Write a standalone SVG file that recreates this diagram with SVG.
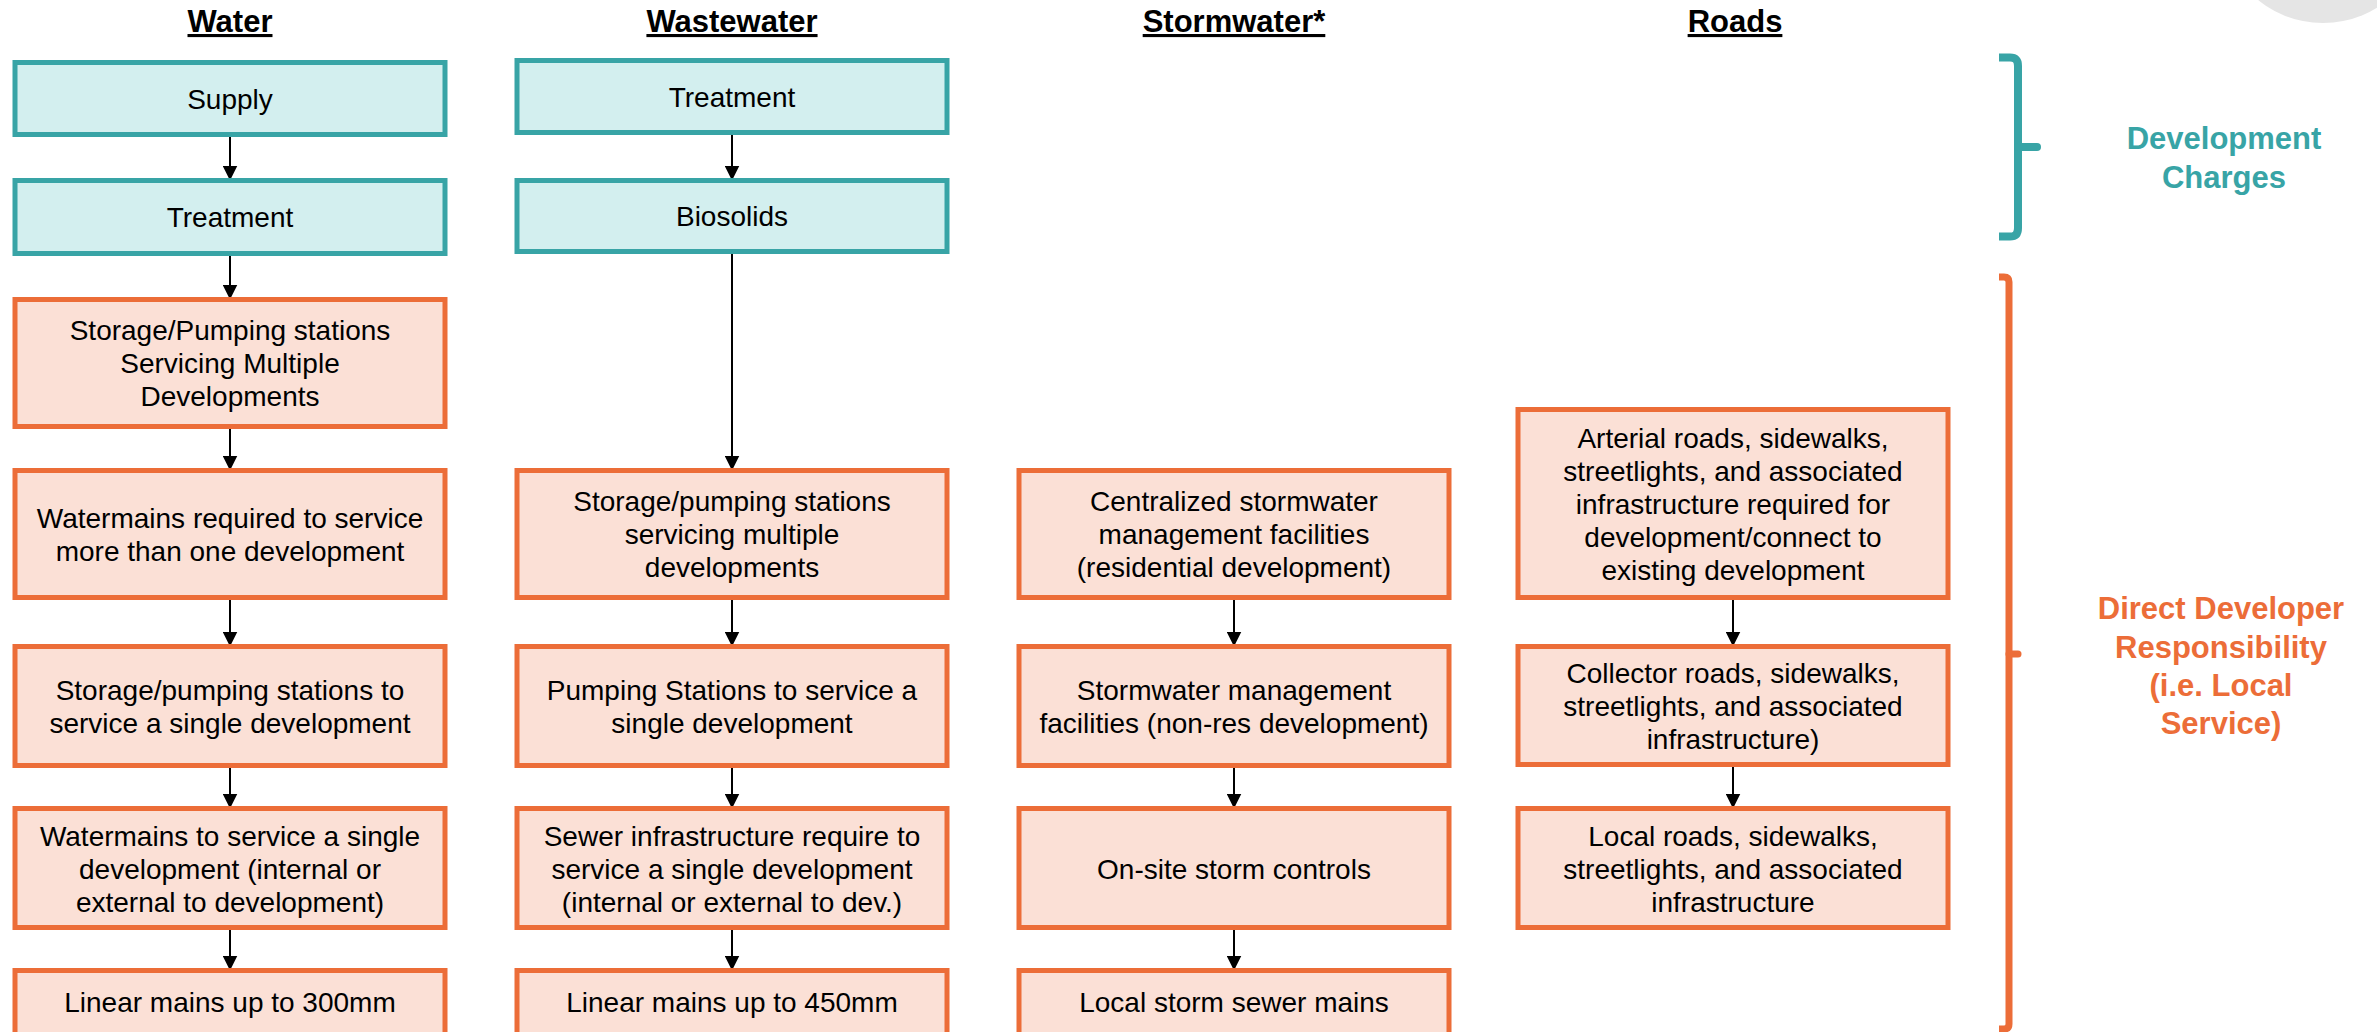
<svg xmlns="http://www.w3.org/2000/svg" width="2377" height="1032" viewBox="0 0 2377 1032">
<defs>
<style>
.t{font-family:"Liberation Sans",Arial,sans-serif;font-size:28px;fill:#000;text-anchor:middle}
.h{font-family:"Liberation Sans",Arial,sans-serif;font-size:31px;font-weight:bold;fill:#000;text-anchor:middle;text-decoration:underline}
.dc{stroke:#38a4a6;stroke-width:5;fill:#d3efef}
.dd{stroke:#ec6d38;stroke-width:5;fill:#fbe0d6}
.c{stroke:#000;stroke-width:2;fill:none;marker-end:url(#ah)}
.lt{font-family:"Liberation Sans",Arial,sans-serif;font-size:31px;font-weight:bold;text-anchor:middle}
</style>
<marker id="ah" markerUnits="userSpaceOnUse" markerWidth="15" markerHeight="15" viewBox="0 0 15 15" refX="15" refY="7.5" orient="auto">
<path d="M0,0 L15,7.5 L0,15 z" fill="#000"/>
</marker>
</defs>
<rect width="2377" height="1032" fill="#fff"/>
<circle cx="2323" cy="-80" r="103" fill="#e5e5e5"/>

<g id="titles">
<text class="h" x="230" y="32">Water</text>
<text class="h" x="732" y="32">Wastewater</text>
<text class="h" x="1234" y="32">Stormwater*</text>
<text class="h" x="1735" y="32">Roads</text>
</g>

<g id="connectors">
<line class="c" x1="230" y1="137" x2="230" y2="180.5"/>
<line class="c" x1="230" y1="256" x2="230" y2="299.5"/>
<line class="c" x1="230" y1="429" x2="230" y2="470.5"/>
<line class="c" x1="230" y1="600" x2="230" y2="646.5"/>
<line class="c" x1="230" y1="768" x2="230" y2="808.5"/>
<line class="c" x1="230" y1="930" x2="230" y2="970.5"/>
<line class="c" x1="732" y1="135" x2="732" y2="180.5"/>
<line class="c" x1="732" y1="254" x2="732" y2="470.5"/>
<line class="c" x1="732" y1="600" x2="732" y2="646.5"/>
<line class="c" x1="732" y1="768" x2="732" y2="808.5"/>
<line class="c" x1="732" y1="930" x2="732" y2="970.5"/>
<line class="c" x1="1234" y1="600" x2="1234" y2="646.5"/>
<line class="c" x1="1234" y1="768" x2="1234" y2="808.5"/>
<line class="c" x1="1234" y1="930" x2="1234" y2="970.5"/>
<line class="c" x1="1733" y1="600" x2="1733" y2="646.5"/>
<line class="c" x1="1733" y1="767" x2="1733" y2="808.5"/>
</g>

<g id="w-supply"><rect class="dc" x="15" y="62.5" width="430" height="72"/><text class="t" x="230" y="109">Supply</text></g>
<g id="w-treatment"><rect class="dc" x="15" y="180.5" width="430" height="73"/><text class="t" x="230" y="227">Treatment</text></g>
<g id="w-storage-multi"><rect class="dd" x="15" y="299.5" width="430" height="127"/><text class="t" x="230" y="340">Storage/Pumping stations</text><text class="t" x="230" y="373">Servicing Multiple</text><text class="t" x="230" y="406">Developments</text></g>
<g id="w-mains-multi"><rect class="dd" x="15" y="470.5" width="430" height="127"/><text class="t" x="230" y="528">Watermains required to service</text><text class="t" x="230" y="561">more than one development</text></g>
<g id="w-storage-single"><rect class="dd" x="15" y="646.5" width="430" height="119"/><text class="t" x="230" y="700">Storage/pumping stations to</text><text class="t" x="230" y="733">service a single development</text></g>
<g id="w-mains-single"><rect class="dd" x="15" y="808.5" width="430" height="119"/><text class="t" x="230" y="846">Watermains to service a single</text><text class="t" x="230" y="879">development (internal or</text><text class="t" x="230" y="912">external to development)</text></g>
<g id="w-linear"><rect class="dd" x="15" y="970.5" width="430" height="100"/><text class="t" x="230" y="1012">Linear mains up to 300mm</text></g>

<g id="ww-treatment"><rect class="dc" x="517" y="60.5" width="430" height="72"/><text class="t" x="732" y="107">Treatment</text></g>
<g id="ww-biosolids"><rect class="dc" x="517" y="180.5" width="430" height="71"/><text class="t" x="732" y="226">Biosolids</text></g>
<g id="ww-storage-multi"><rect class="dd" x="517" y="470.5" width="430" height="127"/><text class="t" x="732" y="511">Storage/pumping stations</text><text class="t" x="732" y="544">servicing multiple</text><text class="t" x="732" y="577">developments</text></g>
<g id="ww-pumping-single"><rect class="dd" x="517" y="646.5" width="430" height="119"/><text class="t" x="732" y="700">Pumping Stations to service a</text><text class="t" x="732" y="733">single development</text></g>
<g id="ww-sewer-single"><rect class="dd" x="517" y="808.5" width="430" height="119"/><text class="t" x="732" y="846">Sewer infrastructure require to</text><text class="t" x="732" y="879">service a single development</text><text class="t" x="732" y="912">(internal or external to dev.)</text></g>
<g id="ww-linear"><rect class="dd" x="517" y="970.5" width="430" height="100"/><text class="t" x="732" y="1012">Linear mains up to 450mm</text></g>

<g id="sw-central"><rect class="dd" x="1019" y="470.5" width="430" height="127"/><text class="t" x="1234" y="511">Centralized stormwater</text><text class="t" x="1234" y="544">management facilities</text><text class="t" x="1234" y="577">(residential development)</text></g>
<g id="sw-nonres"><rect class="dd" x="1019" y="646.5" width="430" height="119"/><text class="t" x="1234" y="700">Stormwater management</text><text class="t" x="1234" y="733">facilities (non-res development)</text></g>
<g id="sw-onsite"><rect class="dd" x="1019" y="808.5" width="430" height="119"/><text class="t" x="1234" y="879">On-site storm controls</text></g>
<g id="sw-local"><rect class="dd" x="1019" y="970.5" width="430" height="100"/><text class="t" x="1234" y="1012">Local storm sewer mains</text></g>

<g id="r-arterial"><rect class="dd" x="1518" y="409.5" width="430" height="188"/><text class="t" x="1733" y="448">Arterial roads, sidewalks,</text><text class="t" x="1733" y="481">streetlights, and associated</text><text class="t" x="1733" y="514">infrastructure required for</text><text class="t" x="1733" y="547">development/connect to</text><text class="t" x="1733" y="580">existing development</text></g>
<g id="r-collector"><rect class="dd" x="1518" y="646.5" width="430" height="118"/><text class="t" x="1733" y="683">Collector roads, sidewalks,</text><text class="t" x="1733" y="716">streetlights, and associated</text><text class="t" x="1733" y="749">infrastructure)</text></g>
<g id="r-local"><rect class="dd" x="1518" y="808.5" width="430" height="119"/><text class="t" x="1733" y="846">Local roads, sidewalks,</text><text class="t" x="1733" y="879">streetlights, and associated</text><text class="t" x="1733" y="912">infrastructure</text></g>

<g id="bracket-dc">
<path d="M1999,57.5 H2010 Q2018,57.5 2018,66 V228 Q2018,236.5 2010,236.5 H1999" fill="none" stroke="#38a4a6" stroke-width="8"/>
<line x1="2018" y1="147" x2="2037" y2="147" stroke="#38a4a6" stroke-width="8" stroke-linecap="round"/>
<text class="lt" fill="#38a4a6" x="2224" y="149">Development</text>
<text class="lt" fill="#38a4a6" x="2224" y="188">Charges</text>
</g>

<g id="bracket-ddr">
<path d="M1999,277 H2004 Q2009,277 2009,282 V1024 Q2009,1029 2004,1029 H1999" fill="none" stroke="#ec6d38" stroke-width="7"/>
<line x1="2009" y1="654" x2="2018" y2="654" stroke="#ec6d38" stroke-width="7" stroke-linecap="round"/>
<text class="lt" fill="#ec6d38" x="2221" y="619">Direct Developer</text>
<text class="lt" fill="#ec6d38" x="2221" y="658">Responsibility</text>
<text class="lt" fill="#ec6d38" x="2221" y="696">(i.e. Local</text>
<text class="lt" fill="#ec6d38" x="2221" y="734">Service)</text>
</g>
</svg>
